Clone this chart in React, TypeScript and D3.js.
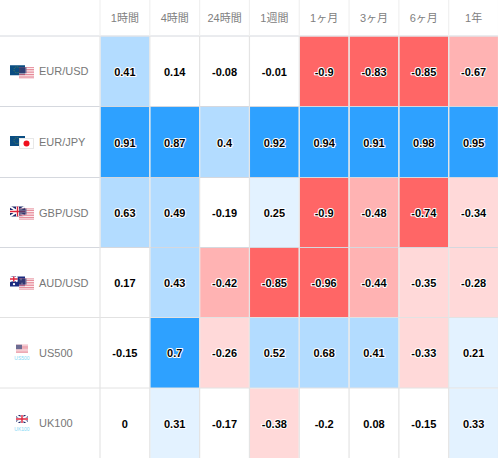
import React from "react";
import * as d3 from "d3";

const periods = ["1時間", "4時間", "24時間", "1週間", "1ヶ月", "3ヶ月", "6ヶ月", "1年"];
const instruments = ["EUR/USD", "EUR/JPY", "GBP/USD", "AUD/USD", "US500", "UK100"];
const eurUsd = [0.41, 0.14, -0.08, -0.01, -0.9, -0.83, -0.85, -0.67];
const eurJpy = [0.91, 0.87, 0.4, 0.92, 0.94, 0.91, 0.98, 0.95];
const gbpUsd = [0.63, 0.49, -0.19, 0.25, -0.9, -0.48, -0.74, -0.34];
const audUsd = [0.17, 0.43, -0.42, -0.85, -0.96, -0.44, -0.35, -0.28];
const us500 = [-0.15, 0.7, -0.26, 0.52, 0.68, 0.41, -0.33, 0.21];
const uk100 = [0, 0.31, -0.17, -0.38, -0.2, 0.08, -0.15, 0.33];
const rows = [eurUsd, eurJpy, gbpUsd, audUsd, us500, uk100];
const thresholds = [-0.7, -0.4, -0.25, 0.2, 0.4, 0.7];
const palette = ["#ff6666", "#ffb3b3", "#ffd9d9", "#ffffff", "#e3f2ff", "#b3dcff", "#2ea1ff"];
const rowEdges = [36, 106.5, 177.5, 247.5, 317.5, 388, 458];

const W = 498;
const H = 458;
const color = d3.scaleThreshold<number, string>().domain(thresholds).range(palette);
const x = d3.scaleBand<string>().domain(periods).range([100, 498.5]);
const y = d3.scaleOrdinal<string, number>().domain(instruments).range(rowEdges.slice(0, 6));
const font = "'Liberation Sans', Arial, sans-serif";

function Us({ px, py, w = 15, h = 11, o = 0.75 }: any) {
  const s = d3.range(7);
  return (
    <g opacity={o}>
      <rect x={px} y={py} width={w} height={h} fill="#fff" />
      {s.map((i) => (
        <rect key={i} x={px} y={py + (i * h) / 6.5} width={w} height={h / 13} fill="#d9485f" />
      ))}
      <rect x={px} y={py} width={w * 0.5} height={h * 0.55} fill="#3c3b6e" />
    </g>
  );
}
function Uk({ px, py, w = 15, h = 10 }: any) {
  return (
    <g>
      <rect x={px} y={py} width={w} height={h} fill="#1f2a6b" />
      <path d={`M${px} ${py}L${px + w} ${py + h}M${px + w} ${py}L${px} ${py + h}`} stroke="#fff" strokeWidth={2} />
      <path d={`M${px + w / 2} ${py}V${py + h}M${px} ${py + h / 2}H${px + w}`} stroke="#fff" strokeWidth={3} />
      <path d={`M${px + w / 2} ${py}V${py + h}M${px} ${py + h / 2}H${px + w}`} stroke="#e0243c" strokeWidth={1.4} />
    </g>
  );
}
function Eu({ px, py }: any) {
  return (
    <g>
      <rect x={px} y={py} width={15} height={10} fill="#0a4d82" />
      <circle cx={px + 7} cy={py + 4.6} r={3} fill="none" stroke="#6f8f3f" strokeWidth={0.7} strokeDasharray="1 1" />
    </g>
  );
}
function Jp({ px, py }: any) {
  return (
    <g>
      <rect x={px + 0.5} y={py + 0.5} width={14} height={10} fill="#fff" stroke="#e8e8e8" />
      <circle cx={px + 7.5} cy={py + 5.5} r={3} fill="#f0101e" />
    </g>
  );
}
function Au({ px, py }: any) {
  return (
    <g>
      <rect x={px} y={py} width={15} height={10} fill="#1a2a80" />
      <g transform={`translate(${px},${py})`}>
        <Uk px={0} py={0} w={7.5} h={5} />
        <circle cx={4} cy={7.6} r={1.2} fill="#fff" />
        <circle cx={11} cy={3} r={0.9} fill="#fff" />
        <circle cx={12} cy={7} r={0.9} fill="#fff" />
      </g>
    </g>
  );
}
function Flag({ name, cy }: { name: string; cy: number }) {
  const t = cy - 6;
  const caption = (label: string) => (
    <text x={22} y={cy + 7.5} textAnchor="middle" fontFamily={font} fontSize={5} fill="#7fd8f5">{label}</text>
  );
  if (name === "EUR/USD") return <g><Eu px={10} py={t} /><Us px={19} py={t + 2} /></g>;
  if (name === "EUR/JPY") return <g><Eu px={10} py={t} /><Jp px={19} py={t + 2} /></g>;
  if (name === "GBP/USD") return <g><Uk px={10} py={t} /><Us px={19} py={t + 2} /></g>;
  if (name === "AUD/USD") return <g><Au px={10} py={t} /><Us px={19} py={t + 2} /></g>;
  if (name === "US500") return <g><Us px={16} py={cy - 8} w={12} h={8} o={0.75} />{caption("US500")}</g>;
  return <g><Uk px={16} py={cy - 8} w={12} h={8} />{caption("UK100")}</g>;
}

export default function App() {
  return (
    <svg width={W} height={H} style={{ position: "absolute", left: 0, top: 0, background: "#fff" }}>
      {periods.map((p) => (
        <text key={p} x={x(p)! + x.bandwidth() / 2} y={22} textAnchor="middle" fontSize={11} fill="#808080"
          fontFamily={`'Liberation Sans', 'Noto Sans CJK JP', sans-serif`}>{p}</text>
      ))}
      {instruments.map((name, r) => {
        const top = y(name)!;
        const bottom = rowEdges[r + 1];
        const cy = (top + bottom) / 2;
        return (
          <g key={name}>
            <Flag name={name} cy={cy} />
            <text x={39} y={cy + 4} fontFamily={font} fontSize={11} fill="#777">{name}</text>
            {rows[r].map((v, c) => {
              const px = x(periods[c])!;
              return (
                <g key={c}>
                  <rect x={px + 0.5} y={top + 0.5} width={x.bandwidth() - 1} height={bottom - top - 0.5} fill={color(v)} />
                  <text x={px + x.bandwidth() / 2} y={cy + 4.5} textAnchor="middle" fontFamily={font} fontSize={11}
                    fontWeight="bold" fill="#000" stroke="#fff" strokeWidth={2} paintOrder="stroke" strokeLinejoin="round">{v}</text>
                </g>
              );
            })}
          </g>
        );
      })}
      {rowEdges.slice(0, 6).map((e, i) => (
        <line key={i} x1={0} x2={W} y1={e} y2={e} stroke={i < 4 ? "#d5d8de" : "#e2e2e2"} strokeWidth={1} />
      ))}
      {d3.range(9).map((i) => {
        const lx = 100 + (i * 398.5) / 8;
        return (
          <g key={i}>
            <line x1={lx} x2={lx} y1={0} y2={36} stroke="#f0f0f0" strokeWidth={1.2} />
            <line x1={lx} x2={lx} y1={36} y2={H} stroke="#e4e4e4" strokeWidth={1.2} />
          </g>
        );
      })}
    </svg>
  );
}
